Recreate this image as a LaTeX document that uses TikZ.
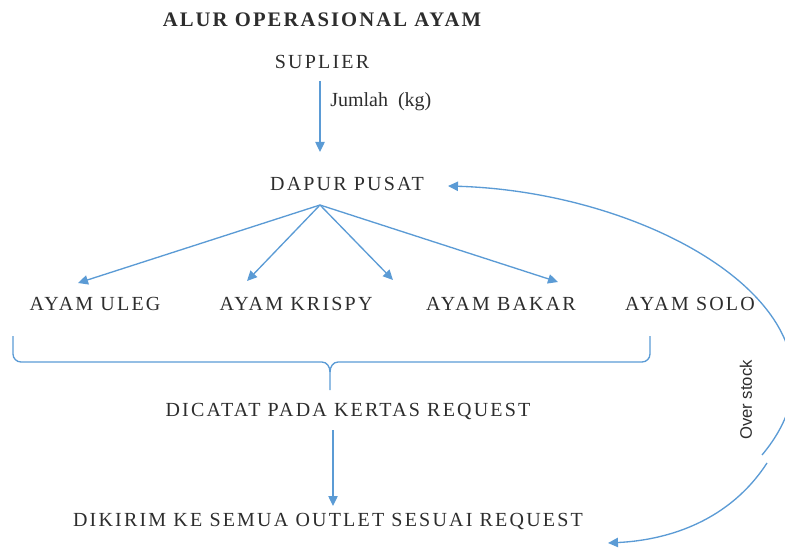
\documentclass[tikz,border=0pt]{standalone}
\usepackage{fontspec}
\setmainfont{Liberation Serif}
\setsansfont{Liberation Sans}
\usetikzlibrary{arrows.meta}
\definecolor{flowblue}{RGB}{91,155,213}
\definecolor{inkgray}{RGB}{45,45,45}

\begin{document}
\begin{tikzpicture}[x=0.75pt,y=-0.75pt,
  boxtext/.style={font=\fontsize{15}{17}\selectfont\addfontfeature{LetterSpace=11}, text=inkgray, inner sep=0pt},
  flow/.style={draw=flowblue, line width=1pt, -{Triangle[length=7.5pt,width=7pt]}},
  brace/.style={draw=flowblue, line width=1pt}]
\useasboundingbox (0,0) rectangle (785,549);
\node[boxtext, font=\fontsize{15.5}{17}\selectfont\bfseries\addfontfeature{LetterSpace=10}] (title) at (322,20) {ALUR OPERASIONAL AYAM};
\node[boxtext] (suplier) at (322,62) {SUPLIER};
\node[boxtext] (dapur) at (347,184) {DAPUR PUSAT};
\node[boxtext] (uleg) at (95,304) {AYAM ULEG};
\node[boxtext] (krispy) at (296,304) {AYAM KRISPY};
\node[boxtext] (bakar) at (501,304) {AYAM BAKAR};
\node[boxtext] (solo) at (690,304) {AYAM SOLO};
\node[boxtext] (dicatat) at (348,411) {DICATAT PADA KERTAS REQUEST};
\node[boxtext] (dikirim) at (328,521) {DIKIRIM KE SEMUA OUTLET SESUAI REQUEST};
\node[anchor=west, font=\fontsize{15}{17}\selectfont, text=inkgray, inner sep=0pt] (jumlah) at (330,102) {Jumlah~~(kg)};
\node[rotate=90, font=\sffamily\fontsize{12.5}{14}\selectfont, text=inkgray, inner sep=0pt] (overstock) at (746,400) {Over stock};
% connector ends
\coordinate (sup-out) at (320,81);
\coordinate (dap-in) at (320,152);
\coordinate (dap-out) at (320,205);
\coordinate (uleg-in) at (78,283);
\coordinate (krispy-in) at (247,281);
\coordinate (bakar-in) at (393,280);
\coordinate (solo-in) at (558,282);
\coordinate (cat-out) at (333,430);
\coordinate (kirim-in) at (333,506);
\coordinate (dap-ret) at (448,186);
\coordinate (gap-up) at (762,455);
\coordinate (gap-down) at (767,463);
\coordinate (kirim-ret) at (608,543);
\draw[flow] (sup-out) -- (dap-in);
\draw[flow] (dap-out) -- (uleg-in);
\draw[flow] (dap-out) -- (krispy-in);
\draw[flow] (dap-out) -- (bakar-in);
\draw[flow] (dap-out) -- (solo-in);
\draw[flow] (cat-out) -- (kirim-in);
\draw[flow] (gap-up) .. controls (875,320) and (660,192) .. (dap-ret);
\draw[flow] (gap-down) .. controls (730,520) and (670,540) .. (kirim-ret);
% brace under the four outlets
\draw[brace] (13,336) -- (13,354) to[out=-90,in=180] (21,362) -- (322,362)
  to[out=0,in=90] (330,372) -- (330,390);
\draw[brace] (330,372) to[out=90,in=180] (338,362) -- (642,362)
  to[out=0,in=-90] (650,354) -- (650,336);
\end{tikzpicture}
\end{document}
